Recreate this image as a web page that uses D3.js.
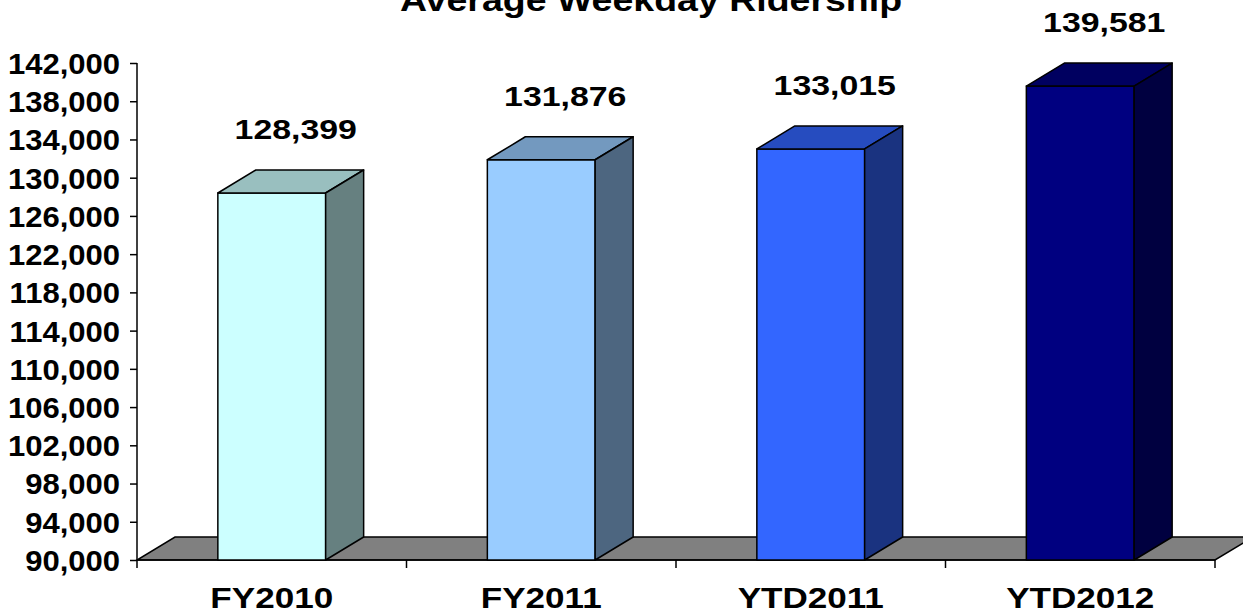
<!DOCTYPE html>
<html>
<head>
<meta charset="utf-8">
<script src="https://cdn.jsdelivr.net/npm/d3@7"></script>
<style>
html,body{margin:0;padding:0;background:#fff;}
svg{display:block;}
text{font-family:"Liberation Sans",Arial,sans-serif;font-weight:bold;fill:#000;}
</style>
</head>
<body>
<svg id="chart" width="1243" height="613"></svg>
<script>
const title = "Average Weekday Ridership";
const categories = ["FY2010", "FY2011", "YTD2011", "YTD2012"];
const values = [128399, 131876, 133015, 139581];
const frontColors = ["#CCFFFF", "#99CCFF", "#3366FF", "#000080"];
const topColors = ["#99BFBF", "#7399BF", "#264CBF", "#000060"];
const sideColors = ["#668080", "#4D6680", "#1A3380", "#000040"];
const yTicks = [90000, 94000, 98000, 102000, 106000, 110000, 114000, 118000, 122000, 126000, 130000, 134000, 138000, 142000];

(function () {
const svg = d3.select("#chart");
const pLeft = 137, pRight = 1215, pBottom = 560, pTop = 63;
const dx = 38, dy = 23;

const x = d3.scaleBand().domain(categories).range([pLeft, pRight]).paddingInner(0).paddingOuter(0);
const y = d3.scaleLinear().domain([90000, 142000]).range([pBottom, pTop]);
const bw = x.bandwidth();
const fmt = d3.format(",");
const pts = a => a.map(p => p.join(",")).join(" ");

// floor
svg.append("polygon")
  .attr("points", pts([[pLeft, pBottom], [pRight, pBottom], [pRight + dx, pBottom - dy], [pLeft + dx, pBottom - dy]]))
  .attr("fill", "#808080").attr("stroke", "#000").attr("stroke-width", 1.5);

// y axis
const yAxis = d3.axisLeft(y).tickValues(yTicks).tickFormat(fmt).tickSize(7).tickPadding(10);
const ga = svg.append("g").attr("transform", `translate(${pLeft},0)`).call(yAxis);
ga.select(".domain").remove();
ga.selectAll("line").attr("stroke", "#000").attr("stroke-width", 1.5);
ga.selectAll("text").attr("font-size", 29).attr("font-family", '"Liberation Sans",Arial,sans-serif')
  .attr("font-weight", "bold").attr("dy", "0.36em").attr("fill", "#000")
  .attr("x", 0).attr("transform", "translate(-17,0) scale(1.07,1)");
svg.append("line").attr("x1", pLeft).attr("x2", pLeft).attr("y1", pTop).attr("y2", pBottom + 8).attr("stroke", "#000").attr("stroke-width", 1.5);

// x axis line & ticks
svg.append("line").attr("x1", pLeft).attr("x2", pRight).attr("y1", pBottom).attr("y2", pBottom).attr("stroke", "#000").attr("stroke-width", 1.5);
categories.forEach(c => {
  svg.append("line").attr("x1", x(c) + bw).attr("x2", x(c) + bw).attr("y1", pBottom).attr("y2", pBottom + 8).attr("stroke", "#000").attr("stroke-width", 1.5);
});

// bars
const bars = svg.selectAll("g.bar").data(categories.map((c, i) => ({c, v: values[i], i}))).enter().append("g").attr("class", "bar");
bars.each(function(d) {
  const g = d3.select(this);
  const x0 = x(d.c) + bw * 0.3, x1 = x(d.c) + bw * 0.7;
  const yt = y(d.v);
  g.append("polygon").attr("points", pts([[x0, yt], [x1, yt], [x1, pBottom], [x0, pBottom]]))
    .attr("fill", frontColors[d.i]).attr("stroke", "#000").attr("stroke-width", 1.5).attr("stroke-linejoin", "round");
  g.append("polygon").attr("points", pts([[x0, yt], [x0 + dx, yt - dy], [x1 + dx, yt - dy], [x1, yt]]))
    .attr("fill", topColors[d.i]).attr("stroke", "#000").attr("stroke-width", 1.5).attr("stroke-linejoin", "round");
  g.append("polygon").attr("points", pts([[x1, yt], [x1 + dx, yt - dy], [x1 + dx, pBottom - dy], [x1, pBottom]]))
    .attr("fill", sideColors[d.i]).attr("stroke", "#000").attr("stroke-width", 1.5).attr("stroke-linejoin", "round");
  const lx = x(d.c) + bw / 2 + 24, ly = yt - 54;
  g.append("text").attr("text-anchor", "middle").attr("font-size", 28)
    .attr("transform", `translate(${lx},${ly}) scale(1.21,1)`).text(fmt(d.v));
});

// category labels
categories.forEach(c => {
  svg.append("text").attr("text-anchor", "middle").attr("font-size", 29)
    .attr("transform", `translate(${x(c) + bw / 2},608) scale(1.21,1)`).text(c);
});

// title
svg.append("text").attr("text-anchor", "middle").attr("font-size", 31)
  .attr("transform", `translate(651,11) scale(1.21,1)`).text(title);
})();
</script>
</body>
</html>
